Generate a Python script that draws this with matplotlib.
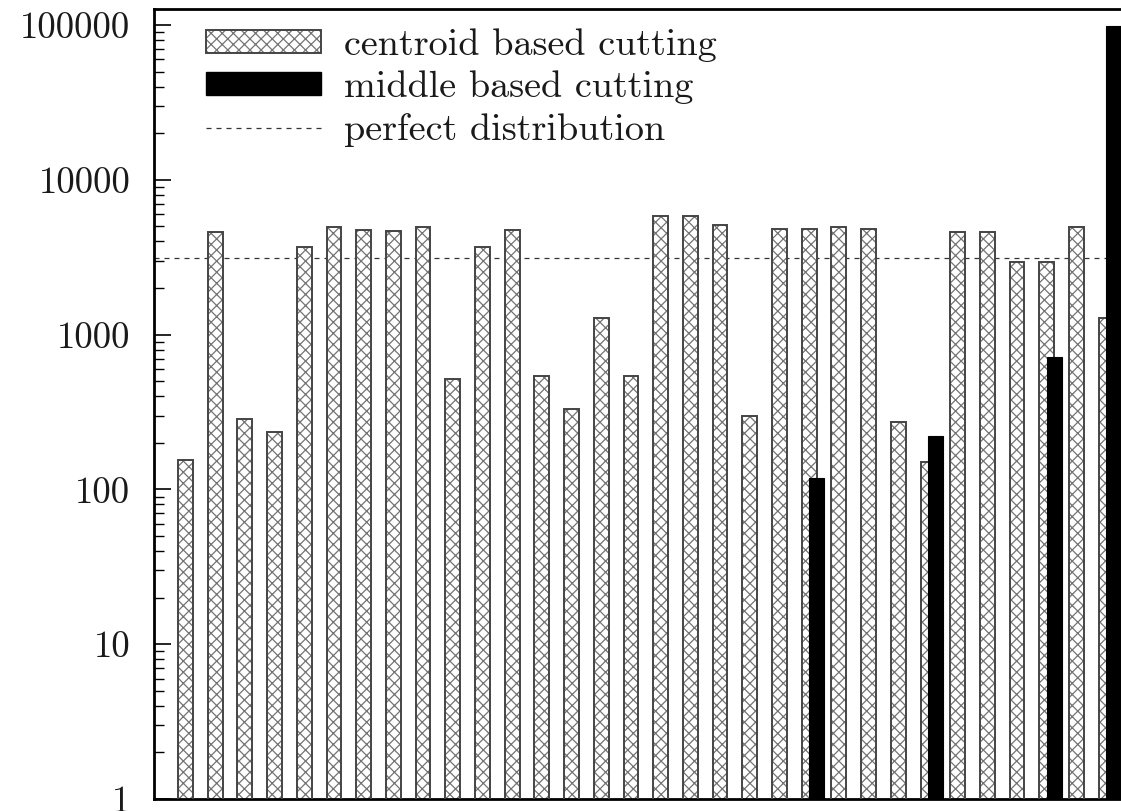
import matplotlib
matplotlib.use("Agg")
import matplotlib.pyplot as plt
from matplotlib.patches import Patch
from matplotlib.lines import Line2D
from matplotlib.legend_handler import HandlerTuple
from matplotlib.ticker import FixedLocator, FixedFormatter, LogLocator, NullFormatter

# points per bucket, 32 buckets, 100000 points total
centroid_vals = [155, 4600, 285, 236, 3700, 4935, 4720, 4700, 4935, 514,
                 3700, 4742, 543, 332, 1274, 543, 5865, 5850, 5082, 298,
                 4810, 4810, 4980, 4810, 272, 151, 4620, 4600, 2930, 2930,
                 4935, 1274]
middle_idx = [21, 25, 29, 31]
middle_vals = [118, 222, 720, 98940]
perfect = 100000 / 32

ytick_vals = [1, 10, 100, 1000, 10000, 100000]
ytick_labels = ["1", "10", "100", "1000", "10000", "100000"]

plt.rcParams['font.family'] = ['cmr10', 'DejaVu Serif']
plt.rcParams['axes.formatter.use_mathtext'] = True
plt.rcParams['hatch.linewidth'] = 0.9
plt.rcParams['text.color'] = '#1a1a1a'
plt.rcParams['ytick.labelcolor'] = '#1a1a1a'

fig = plt.figure(figsize=(11.21, 8.11), dpi=100)
ax = fig.add_axes([154/1121, 1 - 799/811, 1 - 154/1121, 790/811])
ax.set_yscale('log')

x = list(range(len(centroid_vals)))
w = 0.5

#hatch layer then outline layer
ax.bar(x, centroid_vals, width=w, color='white', edgecolor='#747474', hatch='xxx', linewidth=0, zorder=2)
ax.bar(x, centroid_vals, width=w, fill=False, edgecolor='#444444', linewidth=1.4, zorder=3)

xm = [i + 0.25 for i in middle_idx]
ax.bar(xm, middle_vals, width=w, color='black', edgecolor='black', linewidth=0.8, zorder=4)

ax.axhline(perfect, color='#333333', linestyle=(0, (4, 4)), linewidth=0.9, zorder=1)

ax.set_xlim(-1.06, 31.5)
ax.set_ylim(1, 127000)

ax.yaxis.set_major_locator(FixedLocator(ytick_vals))
ax.yaxis.set_major_formatter(FixedFormatter(ytick_labels))
ax.yaxis.set_minor_locator(LogLocator(base=10, subs=range(2, 10)))
ax.yaxis.set_minor_formatter(NullFormatter())
ax.tick_params(axis='y', which='major', direction='in', length=12, width=1.2, labelsize=26.5, pad=17)
ax.tick_params(axis='y', which='minor', direction='in', length=7, width=1.0)
ax.tick_params(axis='x', which='both', bottom=False, labelbottom=False)
ax.tick_params(axis='y', which='both', right=False)

ax.spines['right'].set_visible(False)
for s in ['left', 'bottom', 'top']:
    ax.spines[s].set_linewidth(2)

h1 = (Patch(facecolor='white', edgecolor='#747474', hatch='xxx', linewidth=0),
      Patch(fill=False, edgecolor='#444444', linewidth=1.4))
h2 = Patch(facecolor='black', edgecolor='black')
h3 = Line2D([], [], color='#333333', linestyle=(0, (4, 4)), linewidth=0.9)
leg = ax.legend([h1, h2, h3], ["centroid based cutting", "middle based cutting", "perfect distribution"],
                handler_map={tuple: HandlerTuple(ndivide=1, pad=0)},
                loc='upper left', bbox_to_anchor=(0.038, 0.995), frameon=False, fontsize=27.5,
                handlelength=3.0, handleheight=0.55, handletextpad=0.6, labelspacing=0.23,
                borderaxespad=0)

fig.savefig("out.png", dpi=100)
